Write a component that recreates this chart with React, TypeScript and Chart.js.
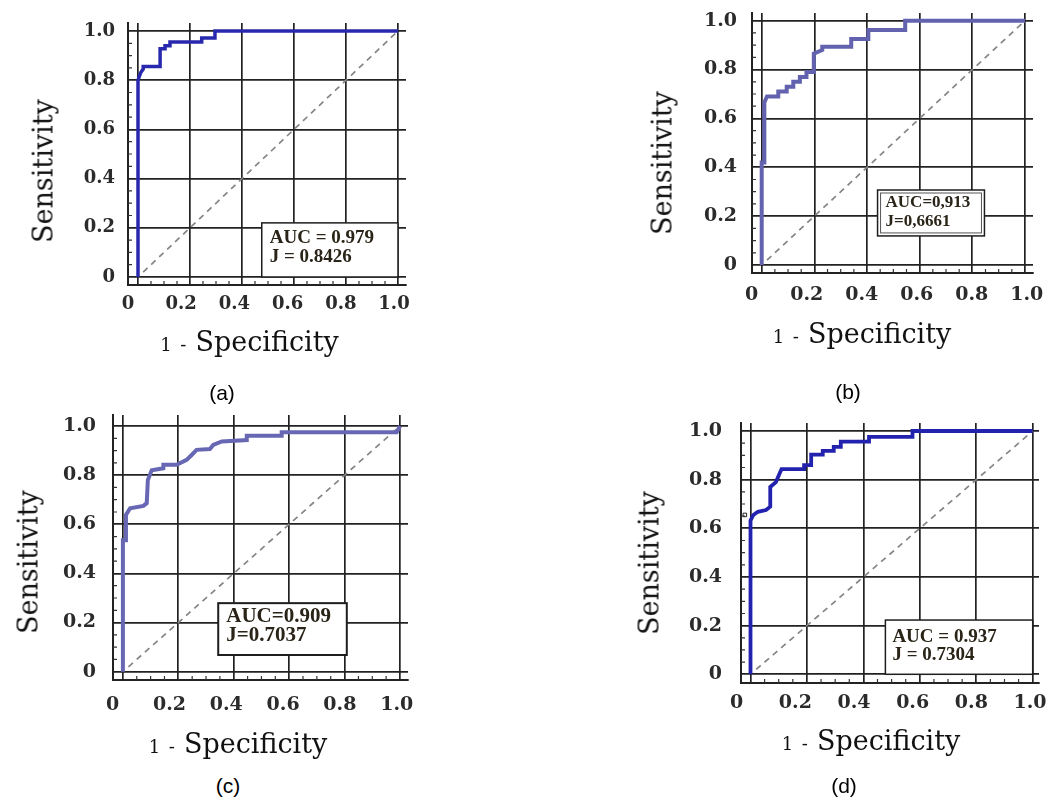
import React, { useEffect, useRef } from "react";
import { Chart, registerables } from "chart.js";

Chart.register(...registerables);

// ---------------- data ----------------
const tickValues = [0, 0.2, 0.4, 0.6, 0.8, 1.0];
const tickLabels = ["0", "0.2", "0.4", "0.6", "0.8", "1.0"];
const minorTickValues = [0.05, 0.1, 0.15, 0.25, 0.3, 0.35, 0.45, 0.5, 0.55, 0.65, 0.7, 0.75, 0.85, 0.9, 0.95];

// (a)
const fprA = [0, 0, 0.01, 0.02, 0.02, 0.085, 0.085, 0.104, 0.104, 0.123, 0.123, 0.245, 0.245, 0.296, 0.296, 1.0];
const tprA = [0, 0.8, 0.83, 0.845, 0.856, 0.856, 0.928, 0.928, 0.94, 0.94, 0.955, 0.955, 0.972, 0.972, 1.0, 1.0];
// (b)
const fprB = [0, 0, 0.01, 0.01, 0.02, 0.063, 0.063, 0.095, 0.095, 0.12, 0.12, 0.145, 0.145, 0.17, 0.17, 0.198, 0.198, 0.23, 0.23, 0.34, 0.34, 0.405, 0.405, 0.545, 0.545, 1.0];
const tprB = [0, 0.42, 0.42, 0.665, 0.69, 0.69, 0.71, 0.71, 0.73, 0.73, 0.75, 0.75, 0.77, 0.77, 0.79, 0.79, 0.865, 0.88, 0.893, 0.893, 0.925, 0.925, 0.962, 0.962, 1.0, 1.0];
// (c)
const fprC = [0, 0, 0.011, 0.011, 0.026, 0.074, 0.086, 0.09, 0.104, 0.146, 0.146, 0.194, 0.23, 0.248, 0.266, 0.314, 0.326, 0.357, 0.447, 0.447, 0.573, 0.573, 0.988, 1.0];
const tprC = [0, 0.535, 0.535, 0.638, 0.665, 0.675, 0.686, 0.78, 0.82, 0.828, 0.842, 0.842, 0.862, 0.882, 0.903, 0.906, 0.923, 0.937, 0.943, 0.96, 0.96, 0.975, 0.975, 1.0];
// (d)
const fprD = [0, 0, 0.01, 0.026, 0.055, 0.07, 0.07, 0.09, 0.105, 0.11, 0.19, 0.19, 0.215, 0.215, 0.256, 0.256, 0.295, 0.295, 0.32, 0.32, 0.42, 0.42, 0.574, 0.574, 1.0];
const tprD = [0, 0.632, 0.655, 0.668, 0.675, 0.689, 0.77, 0.79, 0.83, 0.843, 0.843, 0.86, 0.86, 0.903, 0.903, 0.918, 0.918, 0.935, 0.935, 0.956, 0.956, 0.976, 0.976, 1.0, 1.0];
const cutoffXD = [-0.02];
const cutoffYD = [0.655];

// chance line
const chanceX = [0.02, 1.0];
const chanceY = [0.02, 1.0];

const statsA = ["AUC = 0.979", "J = 0.8426"];
const statsB = ["AUC=0,913", "J=0,6661"];
const statsC = ["AUC=0.909", "J=0.7037"];
const statsD = ["AUC = 0.937", "J = 0.7304"];

const captions = ["(a)", "(b)", "(c)", "(d)"];
const yTitleText = "Sensitivity";
const xTitlePrefix = "1 -";
const xTitleMain = "Specificity";

// ---------------- layout / style ----------------
const YW = 80;
const TOP = 14;
const RIGHT = 25;
const XH = 45;
const GRID = "#222222";
const TICK_COLOR = "#2b2b2b";

type Box = { x0: number; x1: number; y0: number; y1: number; font: number; offsets: number[]; padX: number; border: number; double: boolean; lines: string[] };
type PanelCfg = {
  fpr: number[]; tpr: number[]; color: string; lineW: number;
  frame: { l: number; t: number; r: number; b: number };
  gx0: number; gx1: number; gy0: number; gy1: number; lx0: number; lx1: number;
  yPad: number; yFont: number; xPad: number; xFont: number;
  box: Box;
  yTitle: [number, number]; xTitle: [number, number]; caption: [number, number]; captionText: string;
  cutoff?: { x: number[]; y: number[] };
};

const panels: PanelCfg[] = [
  {
    fpr: fprA, tpr: tprA, color: "#2828ae", lineW: 3.5,
    frame: { l: 128, t: 23, r: 406, b: 285 },
    gx0: 138, gx1: 398, gy0: 277, gy1: 31, lx0: 128, lx1: 394,
    yPad: 13, yFont: 18, xPad: 9, xFont: 18,
    box: { x0: 0.476, x1: 1.0, y0: 0, y1: 0.22, font: 19, offsets: [13.6, 33], padX: 8, border: 1.5, double: false, lines: statsA },
    yTitle: [42.5, 171], xTitle: [249.5, 341], caption: [222, 392], captionText: captions[0],
  },
  {
    fpr: fprB, tpr: tprB, color: "#6262ae", lineW: 4,
    frame: { l: 752, t: 13, r: 1033, b: 273 },
    gx0: 761.7, gx1: 1025, gy0: 265, gy1: 20.7, lx0: 751.7, lx1: 1026.7,
    yPad: 15, yFont: 19, xPad: 11, xFont: 19,
    box: { x0: 0.44, x1: 0.846, y0: 0.119, y1: 0.307, font: 17, offsets: [11.7, 30.3], padX: 8, border: 1.5, double: true, lines: statsB },
    yTitle: [662, 162.5], xTitle: [862, 333], caption: [848, 391], captionText: captions[1],
  },
  {
    fpr: fprC, tpr: tprC, color: "#6767b4", lineW: 4,
    frame: { l: 113, t: 415, r: 408, b: 680 },
    gx0: 122.9, gx1: 400, gy0: 671.7, gy1: 426, lx0: 112.7, lx1: 396.7,
    yPad: 17, yFont: 19, xPad: 14, xFont: 19,
    box: { x0: 0.344, x1: 0.808, y0: 0.068, y1: 0.279, font: 21, offsets: [12.3, 30.5], padX: 8, border: 2, double: false, lines: statsC },
    yTitle: [27.5, 561.7], xTitle: [238, 743], caption: [228, 785], captionText: captions[2],
  },
  {
    fpr: fprD, tpr: tprD, color: "#2222ae", lineW: 3.8,
    frame: { l: 741, t: 423, r: 1039, b: 683 },
    gx0: 750.5, gx1: 1032.7, gy0: 674.3, gy1: 431, lx0: 736.7, lx1: 1030,
    yPad: 19, yFont: 19, xPad: 9, xFont: 19,
    box: { x0: 0.478, x1: 1.0, y0: 0, y1: 0.223, font: 19, offsets: [15.5, 34], padX: 7, border: 1.5, double: false, lines: statsD },
    yTitle: [649, 562.5], xTitle: [871, 740], caption: [844, 785], captionText: captions[3],
    cutoff: { x: cutoffXD, y: cutoffYD },
  },
];

const rocDecor = {
  id: "rocDecor",
  afterDatasetsDraw(chart: any, _args: any, opts: any) {
    const b: Box = opts.box;
    if (!b) return;
    const { ctx } = chart;
    const xs = chart.scales.x;
    const ys = chart.scales.y;
    const L = xs.getPixelForValue(b.x0);
    const R = xs.getPixelForValue(b.x1);
    const T = ys.getPixelForValue(b.y1);
    const B = ys.getPixelForValue(b.y0);
    ctx.save();
    ctx.fillStyle = "#ffffff";
    ctx.fillRect(L, T, R - L, B - T);
    ctx.strokeStyle = "#1e1e1e";
    ctx.lineWidth = b.border;
    ctx.strokeRect(L, T, R - L, B - T);
    if (b.double) {
      ctx.lineWidth = 1;
      ctx.strokeStyle = "#555";
      ctx.strokeRect(L + 3, T + 3, R - L - 6, B - T - 6);
    }
    ctx.fillStyle = "#2a2418";
    ctx.font = `bold ${b.font}px "Liberation Serif", "Times New Roman", serif`;
    ctx.textAlign = "left";
    ctx.textBaseline = "alphabetic";
    b.lines.forEach((t: string, i: number) => {
      ctx.fillText(t, L + b.padX, T + b.offsets[i] + b.font * 0.33);
    });
    ctx.restore();
  },
  afterDraw(chart: any) {
    const { ctx, chartArea } = chart;
    const xs = chart.scales.x;
    const ys = chart.scales.y;
    ctx.save();
    ctx.strokeStyle = "#333";
    ctx.lineWidth = 1.2;
    ctx.beginPath();
    minorTickValues.forEach((v) => {
      const px = xs.getPixelForValue(v);
      ctx.moveTo(px, chartArea.bottom);
      ctx.lineTo(px, chartArea.bottom - 4);
      const py = ys.getPixelForValue(v);
      ctx.moveTo(chartArea.left, py);
      ctx.lineTo(chartArea.left + 4, py);
    });
    ctx.stroke();
    ctx.restore();
  },
};

function buildTicks(s: any) {
  s.ticks = tickValues.map((v) => ({ value: v }));
}

function RocPanel({ p }: { p: PanelCfg }) {
  const ref = useRef<HTMLCanvasElement>(null);
  const cl = p.frame.l - YW;
  const ct = p.frame.t - TOP;
  const cw = p.frame.r - p.frame.l + YW + RIGHT;
  const ch = p.frame.b - p.frame.t + TOP + XH;

  useEffect(() => {
    const canvas = ref.current!;
    const xmin = (p.frame.l - p.gx0) / (p.gx1 - p.gx0);
    const xmax = (p.frame.r - p.gx0) / (p.gx1 - p.gx0);
    const ymin = (p.gy0 - p.frame.b) / (p.gy0 - p.gy1);
    const ymax = (p.gy0 - p.frame.t) / (p.gy0 - p.gy1);
    const lmin = (p.frame.l - p.lx0) / (p.lx1 - p.lx0);
    const lmax = (p.frame.r - p.lx0) / (p.lx1 - p.lx0);

    const datasets: any[] = [
      {
        data: p.fpr.map((x, i) => ({ x, y: p.tpr[i] })),
        showLine: true,
        borderColor: p.color,
        borderWidth: p.lineW,
        pointRadius: 0,
        tension: 0,
        fill: false,
        borderJoinStyle: "miter",
        order: 1,
      },
      {
        data: chanceX.map((x, i) => ({ x, y: chanceY[i] })),
        showLine: true,
        borderColor: "#858585",
        borderWidth: 1.7,
        borderDash: [6, 5],
        pointRadius: 0,
        fill: false,
        order: 2,
      },
    ];
    if (p.cutoff) {
      const c = p.cutoff;
      datasets.push({
        data: c.x.map((x, i) => ({ x, y: c.y[i] })),
        showLine: false,
        pointStyle: "rect",
        pointRadius: 2.5,
        borderColor: "#222",
        backgroundColor: "#fff",
        borderWidth: 1,
        order: 0,
      });
    }

    const chart = new Chart(canvas, {
      type: "scatter",
      data: { datasets },
      options: {
        responsive: false,
        animation: false,
        events: [],
        layout: { padding: { left: 0, top: TOP, right: RIGHT, bottom: 0 } },
        plugins: {
          legend: { display: false },
          tooltip: { enabled: false },
          rocDecor: { box: p.box },
        } as any,
        scales: {
          x: {
            type: "linear",
            position: "bottom",
            weight: 0,
            min: xmin,
            max: xmax,
            afterBuildTicks: buildTicks,
            afterFit: (s: any) => {
              s.height = 0;
              s.paddingLeft = 0;
              s.paddingRight = 0;
            },
            ticks: { display: false },
            grid: { color: GRID, lineWidth: 1.7, drawTicks: false },
            border: { display: true, color: GRID, width: 2 },
          },
          xl: {
            type: "linear",
            axis: "x",
            position: "bottom",
            display: true,
            weight: 1,
            min: lmin,
            max: lmax,
            afterBuildTicks: buildTicks,
            afterFit: (s: any) => {
              s.height = XH;
              s.paddingLeft = 0;
              s.paddingRight = 0;
            },
            grid: { display: false, drawTicks: false },
            border: { display: false },
            ticks: {
              callback: (_v: any, i: number) => tickLabels[i],
              font: { family: "DejaVu Serif", weight: "bold", size: p.xFont },
              color: TICK_COLOR,
              padding: p.xPad,
              maxRotation: 0,
              autoSkip: false,
            },
          },
          y: {
            type: "linear",
            position: "left",
            min: ymin,
            max: ymax,
            afterBuildTicks: buildTicks,
            afterFit: (s: any) => {
              s.width = YW;
              s.paddingTop = 0;
              s.paddingBottom = 0;
            },
            grid: { color: GRID, lineWidth: 1.7, drawTicks: false },
            border: { display: true, color: GRID, width: 2 },
            ticks: {
              callback: (_v: any, i: number) => tickLabels[i],
              font: { family: "DejaVu Serif", weight: "bold", size: p.yFont },
              color: TICK_COLOR,
              padding: p.yPad,
              autoSkip: false,
            },
          },
        } as any,
      },
      plugins: [rocDecor as any],
    });
    return () => chart.destroy();
  }, []);

  const titleFont = '"DejaVu Serif", serif';
  return (
    <>
      <canvas
        ref={ref}
        width={cw}
        height={ch}
        style={{ position: "absolute", left: cl, top: ct, width: cw, height: ch }}
      />
      <div
        style={{
          position: "absolute",
          left: p.yTitle[0],
          top: p.yTitle[1],
          transform: "translate(-50%, -50%) rotate(-90deg)",
          fontFamily: titleFont,
          fontSize: 27,
          lineHeight: 1,
          whiteSpace: "nowrap",
          color: "#111",
        }}
      >
        {yTitleText}
      </div>
      <div
        style={{
          position: "absolute",
          left: p.xTitle[0],
          top: p.xTitle[1],
          transform: "translate(-50%, -50%)",
          fontFamily: titleFont,
          lineHeight: 1,
          whiteSpace: "nowrap",
          color: "#111",
        }}
      >
        <span style={{ fontSize: 18, wordSpacing: 3 }}>{xTitlePrefix}</span>
        <span style={{ fontSize: 27, marginLeft: 9 }}>{xTitleMain}</span>
      </div>
      <div
        style={{
          position: "absolute",
          left: p.caption[0],
          top: p.caption[1],
          transform: "translate(-50%, -50%)",
          fontFamily: '"Liberation Sans", Arial, sans-serif',
          fontSize: 21,
          lineHeight: 1,
          whiteSpace: "nowrap",
          color: "#000",
        }}
      >
        {p.captionText}
      </div>
    </>
  );
}

export default function App() {
  return (
    <div
      style={{
        position: "absolute",
        left: 0,
        top: 0,
        width: 1053,
        height: 801,
        background: "#ffffff",
        overflow: "hidden",
      }}
    >
      {panels.map((p, i) => (
        <RocPanel key={i} p={p} />
      ))}
    </div>
  );
}
